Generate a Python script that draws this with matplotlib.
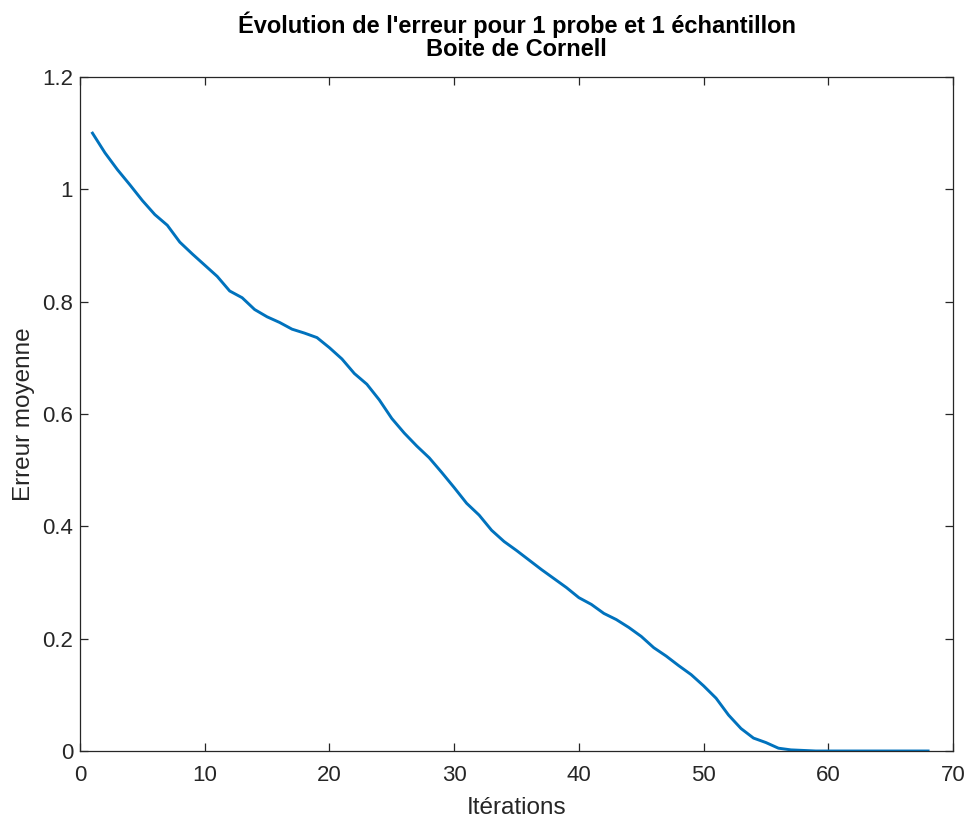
import matplotlib
matplotlib.use("Agg")
import matplotlib.pyplot as plt
import numpy as np

plt.rcParams['font.family'] = ['Liberation Sans', 'DejaVu Sans']

# mean error per iteration
iterations = np.arange(1, 69)
erreur = [1.100, 1.065, 1.035, 1.008, 0.980, 0.955, 0.936, 0.906, 0.885, 0.865,
          0.845, 0.819, 0.807, 0.786, 0.773, 0.763, 0.751, 0.744, 0.736, 0.718,
          0.698, 0.672, 0.653, 0.625, 0.592, 0.566, 0.543, 0.522, 0.496, 0.469,
          0.441, 0.420, 0.393, 0.373, 0.357, 0.340, 0.323, 0.307, 0.291, 0.273,
          0.261, 0.245, 0.234, 0.220, 0.204, 0.184, 0.169, 0.152, 0.136, 0.116,
          0.094, 0.064, 0.040, 0.023, 0.015, 0.005, 0.002, 0.001, 0.000, 0.000,
          0.000, 0.000, 0.000, 0.000, 0.000, 0.000, 0.000, 0.000]

titre = "Évolution de l'erreur pour 1 probe et 1 échantillon\nBoite de Cornell"
xticks = [0, 10, 20, 30, 40, 50, 60, 70]
yticks = [0, 0.2, 0.4, 0.6, 0.8, 1, 1.2]
yticklabels = ['0', '0.2', '0.4', '0.6', '0.8', '1', '1.2']

fig = plt.figure(figsize=(9.71, 8.25), dpi=100)
ax = fig.add_axes([0.0824, 0.0897, 0.8991, 0.817])

ax.plot(iterations, erreur, color='#0072BD', lw=2.1)

ax.set_xlim(0, 70)
ax.set_ylim(0, 1.2)
ax.set_xticks(xticks)
ax.set_yticks(yticks)
ax.set_yticklabels(yticklabels)

dark = '#262626'
for s in ax.spines.values():
    s.set_color(dark)
    s.set_linewidth(0.9)
ax.tick_params(direction='in', length=6, width=0.9, colors=dark,
               labelsize=16, top=True, right=True)
ax.tick_params(axis='x', pad=10)
ax.tick_params(axis='y', pad=5)

ax.set_xlabel('Itérations', fontsize=17.5, color=dark, labelpad=8)
ax.set_ylabel('Erreur moyenne', fontsize=17.5, color=dark, labelpad=5)
ax.set_title(titre, fontsize=17, fontweight='bold', color='black', pad=15,
             linespacing=1.0)

fig.savefig('out.png', dpi=100)
